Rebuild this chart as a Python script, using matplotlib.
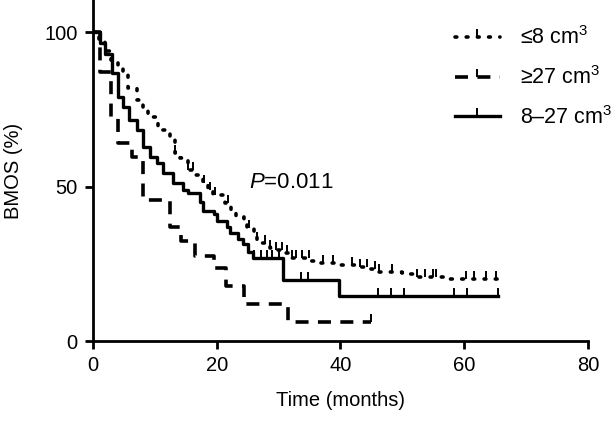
import numpy as np
import matplotlib
matplotlib.use('Agg')
import matplotlib.pyplot as plt
from matplotlib.lines import Line2D

plt.rcParams['font.family'] = ['Liberation Sans', 'DejaVu Sans']
plt.rcParams['mathtext.fontset'] = 'custom'
plt.rcParams['mathtext.rm'] = 'Liberation Sans'
plt.rcParams['mathtext.it'] = 'Liberation Sans:italic'

# <=8 cm3 group (dotted): step start times and survival levels (%)
small_t = [0, 1.0, 2.0, 3.0, 4.0, 4.8, 5.6, 7.1, 8.1, 8.9, 10.3, 10.5, 12.4, 13.2,
           14.0, 15.3, 16.5, 17.8, 18.6, 19.4, 21.3, 22.4, 23.2, 24.5, 24.9, 26.1,
           26.6, 27.4, 28.6, 29.4, 30.7, 32.1, 35.0, 36.3, 39.5, 42.6, 44.7, 46.3,
           49.9, 51.2, 52.3, 56.8, 65.5]
small_s = [100, 97, 94, 91, 88.7, 86.2, 81.9, 78, 75.8, 72.5, 70.9, 68.3, 65.7, 61,
           59.2, 55.3, 53.7, 51.1, 48.9, 47.2, 44.6, 41.7, 40.1, 38.5, 36.5, 34.3,
           32.7, 31.7, 30.1, 29.4, 28.4, 26.8, 25.8, 25.2, 24.7, 23.9, 23.3, 22.3,
           21.9, 21.6, 20.7, 20.1, 20.1]
small_cens = [13.2, 15.3, 16.2, 18.0, 19.0, 19.8, 21.8, 25.3, 26.6, 27.8, 28.7, 29.6,
              30.5, 31.4, 32.1, 32.9, 33.8, 34.9, 37.2, 38.8, 41.8, 43.1, 44.3, 45.6,
              46.3, 48.3, 52.3, 53.6, 54.9, 55.5, 60.3, 61.6, 63.5, 65.1]

# >=27 cm3 group (dashed)
large_t = [0, 1.1, 3.0, 4.1, 6.3, 8.1, 12.4, 14.3, 16.5, 19.6, 21.5, 24.5, 31.6, 45.0]
large_s = [100, 87.2, 72.6, 64.1, 59.5, 45.8, 36.8, 32.4, 27.5, 23.8, 17.8, 11.9, 6.2, 6.2]
large_cens = [45.0]

# 8-27 cm3 group (solid)
mid_t = [0, 1.1, 2.0, 3.1, 4.0, 4.8, 5.9, 7.1, 8.1, 9.2, 10.3, 11.3, 12.9, 14.5, 15.3,
         17.3, 17.8, 19.5, 20.0, 21.6, 22.1, 23.4, 24.2, 25.0, 25.8, 30.7, 39.8, 65.5]
mid_s = [100, 96.5, 93, 87, 79, 75.7, 71.6, 68.3, 62.8, 59.5, 57.6, 54.4, 51.1, 49, 48,
         45, 42, 41, 39, 37, 35, 33, 31.5, 29, 27, 19.7, 14.5, 14.5]
mid_cens = [26.1, 27.1, 28.2, 29.0, 30.0, 33.7, 34.7, 46.0, 48.1, 50.2, 58.4, 60.4, 65.5]

labels = ['≤8 cm$^3$', '≥27 cm$^3$', '8–27 cm$^3$']


def level_at(times, levels, x):
    idx = np.searchsorted(times, x, side='right') - 1
    return np.asarray(levels)[idx]


fig = plt.figure(figsize=(6.15, 4.21), dpi=100)
ax = fig.add_axes([0.151, 0.19, 0.805, 0.81])

styles = [
    (small_t, small_s, small_cens, dict(linestyle=(0, (0.5, 2.6)), dash_capstyle='round', lw=2.6)),
    (large_t, large_s, large_cens, dict(linestyle=(0, (3.6, 2.6)), lw=2.6)),
    (mid_t, mid_s, mid_cens, dict(linestyle='-', lw=2.4)),
]

handles = []
for (t, s, cens, st), lab in zip(styles, labels):
    ax.step(t, s, where='post', color='black', **st)
    ax.plot(cens, level_at(t, s, cens), linestyle='none', marker=2,
            markersize=6, mew=1.4, color='black')
    handles.append(Line2D([], [], color='black', marker=2, markersize=6, mew=1.4, **st))

ax.text(25.3, 51.5, '$P$=0.011', fontsize=16, ha='left', va='center')

ax.set_xlim(0, 80)
ax.set_ylim(0, 110.5)
ax.set_xticks([0, 20, 40, 60, 80])
ax.set_yticks([0, 50, 100])
ax.tick_params(labelsize=14.5, width=2, length=6, direction='out', pad=5)
for sp in ['top', 'right']:
    ax.spines[sp].set_visible(False)
for sp in ['left', 'bottom']:
    ax.spines[sp].set_linewidth(2)

ax.set_xlabel('Time (months)', fontsize=14.5, labelpad=11)
ax.set_ylabel('BMOS (%)', fontsize=14.5, labelpad=15)

ax.legend(handles, labels, loc='upper left', bbox_to_anchor=(0.731, 0.922),
          frameon=False, fontsize=15.5, handlelength=2.1, handletextpad=0.95,
          labelspacing=0.78, borderpad=0, borderaxespad=0, numpoints=1)

fig.savefig('out.png', dpi=100)
